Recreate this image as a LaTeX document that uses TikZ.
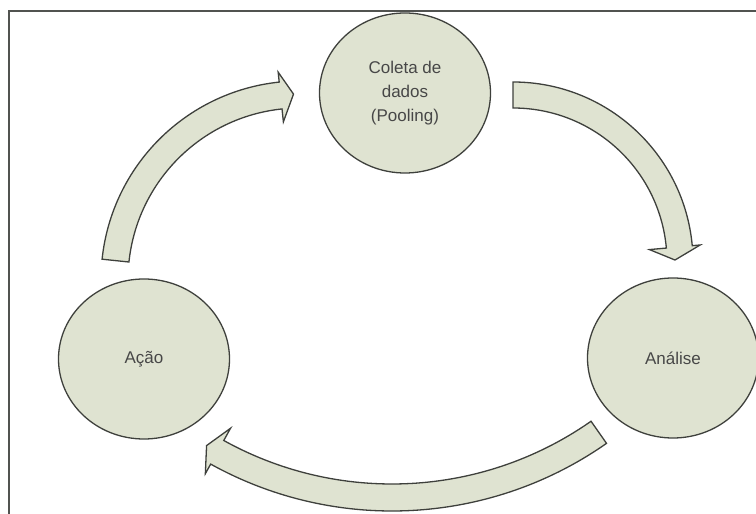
\documentclass[tikz,border=0pt]{standalone}
\usepackage{fontspec}
\setmainfont{Liberation Sans}
\usetikzlibrary{calc}
\usetikzlibrary{shapes.geometric}
\definecolor{sage}{RGB}{223,227,209}
\definecolor{rim}{RGB}{62,64,60}
\tikzset{
  phase/.style={ellipse, draw=rim, line width=1.3pt, fill=sage, minimum width=171pt, minimum height=160pt, inner sep=0pt, align=center, font=\fontsize{17}{24}\selectfont, text=black!72},
  bendarrow/.style={draw=rim, line width=1.3pt, fill=sage, line join=miter}
}

\begin{document}
\begin{tikzpicture}[x=1pt,y=1pt]
\useasboundingbox (0,0) rectangle (756,514);
% frame (left and top edges only)
\draw[rim!90, line width=1.3pt] (9,0) -- (9,503) -- (756,503);
% the three phases of the cycle
\node[phase] (coleta) at (405,421) {Coleta de\\dados\\(Pooling)};
\node[phase] (acao) at (144,155) {Ação};
\node[phase] (analise) at (673,156) {Análise};
% centres of the curved block arrows
\coordinate (c1) at (300,234);
\coordinate (c2) at (513,252);
\coordinate (c3) at (392,377);
% centre/inner r/outer r/tail angle/head angle/tip angle/head inner/head outer/tip r
\foreach \c/\ri/\ro/\a/\b/\t/\hi/\ho/\tr in {c1/172/199/174/96/92/159/209/186, c2/154/180/90/5.2/0.7/137/188/162, c3/347/374/-55/-119/-121/333/385/360}{
\filldraw[bendarrow] ($(\c)+(\a:\ro)$) arc[start angle=\a, end angle=\b, radius=\ro] -- ($(\c)+(\b:\ho)$) -- ($(\c)+(\t:\tr)$) -- ($(\c)+(\b:\hi)$) -- ($(\c)+(\b:\ri)$) arc[start angle=\b, end angle=\a, radius=\ri] -- cycle;
}
\end{tikzpicture}
\end{document}
